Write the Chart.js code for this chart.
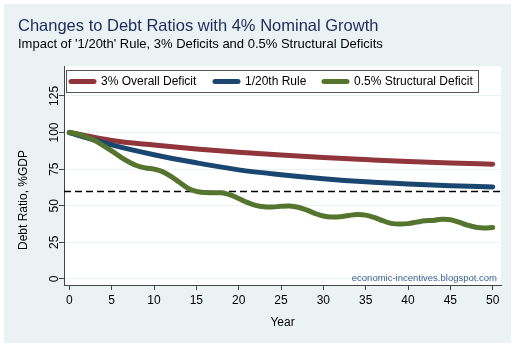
<!DOCTYPE html>
<html>
<head>
<meta charset="utf-8">
<script src="https://cdn.jsdelivr.net/npm/chart.js@4/dist/chart.umd.min.js"></script>
<style>
  html, body { margin: 0; padding: 0; background: #fff; }
  canvas { display: block; }
</style>
</head>
<body>
<canvas id="chart" width="516" height="349"></canvas>
<script>
// Debt-to-GDP paths (% of GDP) under three fiscal rules, 4% nominal growth
const seriesLabels = ['3% Overall Deficit', '1/20th Rule', '0.5% Structural Deficit'];

const smoothYears = [0, 5, 10, 15, 20, 25, 30, 35, 40, 45, 50];
const overallDeficit = [100, 94.5, 91.4, 88.7, 86.5, 84.6, 82.9, 81.5, 80.2, 79.2, 78.3];
const twentiethRule = [100, 91.5, 84.8, 79.3, 74.5, 71.2, 68.5, 66.4, 64.9, 63.7, 62.8];

const years = [
  0, 1, 2, 3, 4, 5, 6, 7, 8, 9, 10, 11, 12, 13, 14, 15, 16, 17, 18, 19, 20,
  21, 22, 23, 24, 25, 26, 27, 28, 29, 30, 31, 32, 33, 34, 35, 36, 37, 38, 39, 40,
  41, 42, 43, 44, 45, 46, 47, 48, 49, 50
];
const structuralDeficit = [
  100, 99, 97, 94.5, 91, 87.5, 83.5, 80, 77.3, 75.8, 75,
  73.3, 70, 66, 62, 59.8, 59, 58.9, 58.8, 57.5, 55,
  52.3, 50.3, 49.3, 49.2, 49.6, 49.8, 49, 47.2, 44.8, 43,
  42.3, 42.5, 43.4, 44, 43.6, 42, 39.8, 38, 37.5, 37.8,
  38.8, 39.7, 40, 40.8, 40.5, 38.8, 36.8, 35.3, 34.8, 35.2
];

const xTicks = [0, 5, 10, 15, 20, 25, 30, 35, 40, 45, 50];
const yTicks = [0, 25, 50, 75, 100, 125];
const debtLimit = 60;

const titleText = 'Changes to Debt Ratios with 4% Nominal Growth';
const subtitleText = "Impact of '1/20th' Rule, 3% Deficits and 0.5% Structural Deficits";
const xTitle = 'Year';
const yTitle = 'Debt Ratio, %GDP';
const sourceText = 'economic-incentives.blogspot.com';

const FONT = '"Liberation Sans", Arial, Helvetica, sans-serif';
const colors = ['#90353b', '#1a476f', '#55752f'];
const panelColor = '#eaf2f3';

const toPoints = (xs, ys) => xs.map((x, i) => ({ x: x, y: ys[i] }));

const backgroundPlugin = {
  id: 'panelBackground',
  beforeDraw(chart) {
    const { ctx, chartArea: a } = chart;
    ctx.save();
    ctx.fillStyle = '#ffffff';
    ctx.fillRect(0, 0, chart.width, chart.height);
    ctx.fillStyle = panelColor;
    ctx.fillRect(4, 4, 507, 339);
    ctx.fillStyle = '#ffffff';
    ctx.fillRect(a.left, a.top, a.right - a.left, a.bottom - a.top);
    ctx.restore();
  }
};

const limitLinePlugin = {
  id: 'limitLine',
  beforeDatasetsDraw(chart) {
    const { ctx, chartArea: a, scales } = chart;
    const y = Math.round(scales.y.getPixelForValue(debtLimit)) + 0.5;
    ctx.save();
    ctx.strokeStyle = '#000000';
    ctx.lineWidth = 1.5;
    ctx.setLineDash([7, 4]);
    ctx.beginPath();
    ctx.moveTo(a.left, y);
    ctx.lineTo(a.right, y);
    ctx.stroke();
    ctx.restore();
  }
};

const annotationsPlugin = {
  id: 'annotations',
  afterDraw(chart) {
    const { ctx, chartArea: a } = chart;
    ctx.save();
    // titles
    ctx.textBaseline = 'alphabetic';
    ctx.textAlign = 'left';
    ctx.fillStyle = '#1c2b59';
    ctx.font = '16.5px ' + FONT;
    ctx.fillText(titleText, 18, 31);
    ctx.fillStyle = '#000000';
    ctx.font = '13px ' + FONT;
    ctx.fillText(subtitleText, 18, 48);

    // axis titles
    ctx.textBaseline = 'middle';
    ctx.textAlign = 'center';
    ctx.font = '12px ' + FONT;
    ctx.fillText(xTitle, (a.left + a.right) / 2, 323);
    ctx.save();
    ctx.translate(24, 200);
    ctx.rotate(-Math.PI / 2);
    ctx.fillText(yTitle, 0, 0);
    ctx.restore();

    // source note
    ctx.textAlign = 'right';
    ctx.textBaseline = 'alphabetic';
    ctx.fillStyle = '#3b5f8c';
    ctx.font = '9.5px ' + FONT;
    ctx.fillText(sourceText, 497, 281);

    // legend box
    const bx = 66.5, by = 70.5, bw = 412, bh = 22;
    ctx.fillStyle = '#ffffff';
    ctx.fillRect(bx, by, bw, bh);
    ctx.strokeStyle = '#555555';
    ctx.lineWidth = 1;
    ctx.strokeRect(bx, by, bw, bh);
    const swatchX = [69, 213, 322];
    const cy = by + bh / 2;
    ctx.font = '12px ' + FONT;
    ctx.textAlign = 'left';
    ctx.textBaseline = 'middle';
    chart.data.datasets.forEach((ds, i) => {
      const sx = swatchX[i] + 2;
      ctx.strokeStyle = ds.borderColor;
      ctx.lineWidth = 5;
      ctx.lineCap = 'round';
      ctx.beginPath();
      ctx.moveTo(sx, cy);
      ctx.lineTo(sx + 23, cy);
      ctx.stroke();
      ctx.fillStyle = '#000000';
      ctx.fillText(ds.label, swatchX[i] + 32, cy + 0.5);
    });
    ctx.restore();
  }
};

const lineStyle = (i) => ({
  borderColor: colors[i],
  backgroundColor: colors[i],
  borderWidth: 5,
  borderCapStyle: 'round',
  borderJoinStyle: 'round',
  pointRadius: 0,
  fill: false
});

new Chart(document.getElementById('chart'), {
  type: 'line',
  data: {
    datasets: [
      Object.assign({ label: seriesLabels[0], data: toPoints(smoothYears, overallDeficit),
        cubicInterpolationMode: 'monotone', order: 3 }, lineStyle(0)),
      Object.assign({ label: seriesLabels[1], data: toPoints(smoothYears, twentiethRule),
        cubicInterpolationMode: 'monotone', order: 2 }, lineStyle(1)),
      Object.assign({ label: seriesLabels[2], data: toPoints(years, structuralDeficit),
        tension: 0.4, order: 1 }, lineStyle(2))
    ]
  },
  options: {
    responsive: false,
    animation: false,
    devicePixelRatio: 1,
    layout: { padding: { top: 66, right: 15, left: 0, bottom: 0 } },
    plugins: { legend: { display: false }, tooltip: { enabled: false }, title: { display: false } },
    scales: {
      x: {
        type: 'linear',
        min: -0.63,
        max: 50.98,
        afterFit(scale) { scale.height = 64; },
        afterBuildTicks(scale) { scale.ticks = xTicks.map(v => ({ value: v })); },
        grid: { display: true, drawOnChartArea: false, drawTicks: true, tickLength: 5, tickColor: '#444444' },
        border: { display: true, color: '#444444', width: 1 },
        ticks: { color: '#000000', font: { family: FONT, size: 12 }, padding: 3, maxRotation: 0, autoSkip: false }
      },
      y: {
        type: 'linear',
        min: -4.1,
        max: 145.4,
        afterFit(scale) { scale.width = 64; },
        afterBuildTicks(scale) { scale.ticks = yTicks.map(v => ({ value: v })); },
        grid: { display: true, drawOnChartArea: true, color: panelColor, lineWidth: 1, drawTicks: true, tickLength: 5, tickColor: '#444444' },
        border: { display: true, color: '#444444', width: 1 },
        ticks: { color: '#000000', font: { family: FONT, size: 12 }, padding: -6, minRotation: 90, maxRotation: 90, crossAlign: 'center', autoSkip: false }
      }
    }
  },
  plugins: [backgroundPlugin, limitLinePlugin, annotationsPlugin]
});
</script>
</body>
</html>
